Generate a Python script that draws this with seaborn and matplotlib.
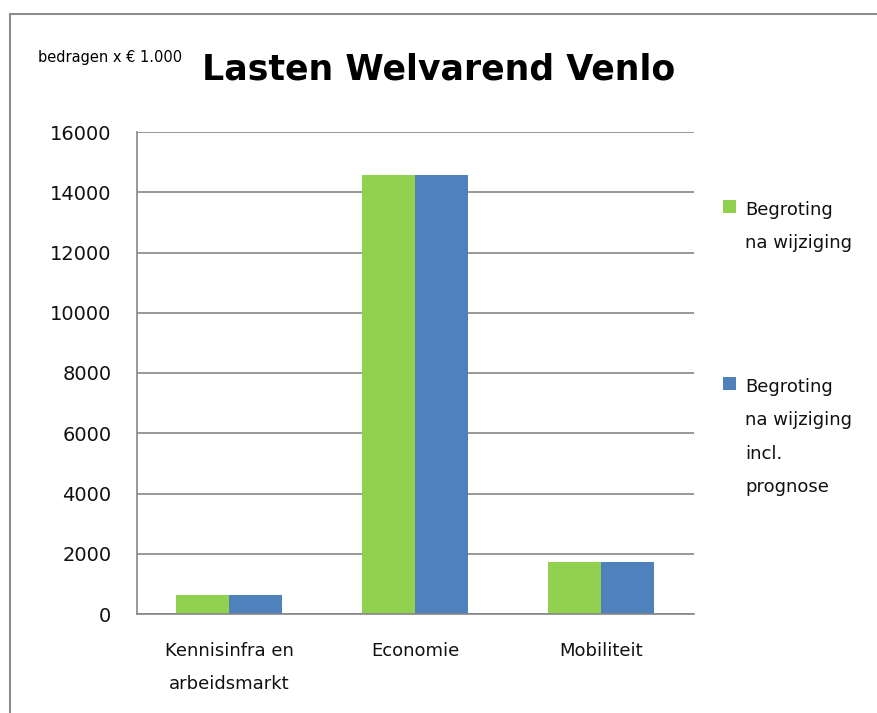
import pandas as pd
import matplotlib.pyplot as plt
import seaborn as sns
from matplotlib.patches import Rectangle
from matplotlib.lines import Line2D

# ------------------------------
# Data (bedragen x 1.000 euro)
# ------------------------------
categories = ["Kennisinfra en\narbeidsmarkt", "Economie", "Mobiliteit"]
series_names = ["Begroting\nna wijziging", "Begroting\nna wijziging\nincl.\nprognose"]
begroting_na_wijziging = [630, 14560, 1740]
begroting_incl_prognose = [630, 14560, 1740]
series_colors = ["#92D050", "#4F81BD"]
y_ticks = [0, 2000, 4000, 6000, 8000, 10000, 12000, 14000, 16000]

df = pd.DataFrame({
    "categorie": categories * 2,
    "serie": [series_names[0]] * len(categories) + [series_names[1]] * len(categories),
    "waarde": begroting_na_wijziging + begroting_incl_prognose,
})

sns.set_style("white")
plt.rcParams["font.family"] = ["DejaVu Sans"]

W, H = 877, 713
GRID = "#868686"
TXT = "#111111"

fig = plt.figure(figsize=(W / 100, H / 100), dpi=100)
ax = fig.add_axes([136.5 / W, 1 - 614 / H, (694 - 136.5) / W, (614 - 132) / H])

sns.barplot(data=df, x="categorie", y="waarde", hue="serie", palette=series_colors,
            width=0.57, saturation=1, linewidth=0, legend=False, ax=ax)

# axes styling
ax.set_xlim(-0.5, len(categories) - 0.5)
ax.set_ylim(0, 16000)
ax.set_yticks(y_ticks)
ax.set_xlabel("")
ax.set_ylabel("")
ax.yaxis.grid(True, color=GRID, linewidth=1.2)
ax.set_axisbelow(True)
for side in ["top", "right"]:
    ax.spines[side].set_visible(False)
for side in ["left", "bottom"]:
    ax.spines[side].set_color(GRID)
    ax.spines[side].set_linewidth(1.2)

ax.tick_params(axis="y", length=6, width=1.2, color=GRID, pad=12, labelsize=14, labelcolor=TXT)
ax.tick_params(axis="x", which="major", length=0, pad=20, labelsize=13, labelcolor=TXT)
ax.set_xticks([i - 0.5 for i in range(len(categories) + 1)], minor=True)
ax.tick_params(axis="x", which="minor", length=6, width=1.2, color=GRID)
for lab in ax.get_xticklabels():
    lab.set_linespacing(2.1)
    lab.set_multialignment("center")

# titles
fig.text(202 / W, 1 - 80 / H, "Lasten Welvarend Venlo", fontsize=25, fontweight="bold",
         color="black", va="baseline", ha="left")
fig.text(38 / W, 1 - 62 / H, "bedragen x € 1.000", fontsize=10.5, color="black",
         va="baseline", ha="left")

# legend (square aligned with first text line)
legend_tops = [201, 378]
for name, color, yt in zip(series_names, series_colors, legend_tops):
    fig.add_artist(Rectangle((723 / W, 1 - (yt + 12) / H), 13 / W, 13 / H,
                             transform=fig.transFigure, facecolor=color, edgecolor="none"))
    fig.text(745 / W, 1 - yt / H, name, fontsize=13, color=TXT, va="top",
             ha="left", linespacing=2.1)

# outer chart frame (only top and left edges visible)
fig.add_artist(Line2D([10 / W, 10 / W], [-0.1, 1 - 14 / H], transform=fig.transFigure,
                      color="#8c8c8c", linewidth=1.5))
fig.add_artist(Line2D([10 / W, 1.1], [1 - 14 / H, 1 - 14 / H], transform=fig.transFigure,
                      color="#8c8c8c", linewidth=1.5))

fig.savefig("out.png", dpi=100)
